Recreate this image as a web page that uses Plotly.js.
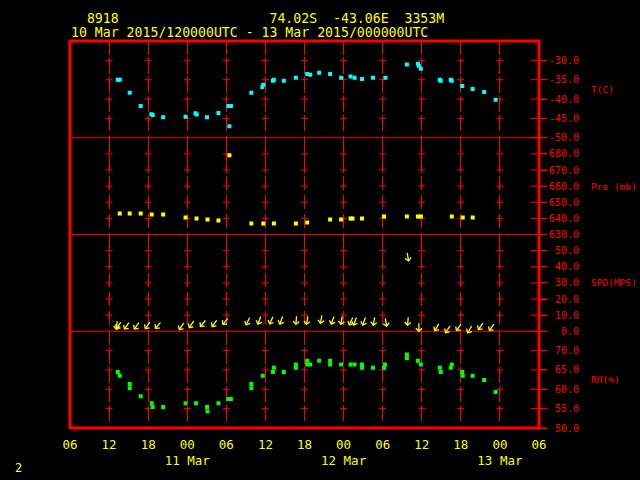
<!DOCTYPE html>
<html><head><meta charset="utf-8">
<script src="https://cdn.plot.ly/plotly-3.0.1.min.js"></script>
<style>html,body{margin:0;padding:0;background:#000;}#chart{width:640px;height:480px;}</style>
</head><body><div id="chart"></div>
<script>
// Times are hours since 10 Mar 2015 00 UTC
const tempHours = [13.33,13.64,15.17,16.85,18.49,18.69,20.30,23.74,25.27,25.45,27.03,28.79,30.32,30.70,30.47,33.84,35.53,35.68,37.15,37.30,38.83,40.67,42.41,42.87,44.25,45.93,47.62,49.07,49.69,50.83,52.52,54.43,57.72,59.41,59.56,59.86,62.77,62.92,64.45,64.61,66.22,67.82,69.58,71.34];
const tempC = [-35.0,-35.0,-38.4,-41.8,-43.9,-44.1,-44.7,-44.6,-43.7,-44.0,-44.7,-43.6,-41.8,-41.8,-47.0,-38.4,-36.9,-36.3,-35.3,-35.0,-35.3,-34.5,-33.5,-33.7,-33.2,-33.5,-34.5,-34.2,-34.5,-34.8,-34.5,-34.5,-31.1,-30.9,-31.4,-32.2,-35.0,-35.3,-35.0,-35.3,-36.6,-37.4,-38.2,-40.2];

const presHours = [13.64,15.17,16.85,18.54,20.30,23.74,25.42,27.11,28.79,30.47,33.84,35.68,37.30,40.67,42.41,45.93,47.62,49.07,49.38,50.83,54.20,57.72,59.41,59.86,64.61,66.29,67.82];
const presMb = [643.1,643.1,643.1,642.4,642.4,640.6,640.0,639.3,638.7,679.1,636.8,636.8,636.8,636.8,637.5,639.3,639.3,640.0,640.0,640.0,641.2,641.2,641.2,641.2,641.2,640.6,640.6];

const rhHours = [13.33,13.64,15.17,15.17,16.85,18.54,18.69,20.30,23.74,25.35,27.03,27.11,28.79,30.32,30.70,33.84,33.84,35.60,37.30,37.15,38.83,40.67,40.67,42.41,42.41,42.87,44.25,45.93,45.93,47.62,49.07,49.69,50.83,50.83,52.52,54.35,54.20,57.72,57.72,59.41,59.86,62.77,62.92,64.61,64.45,66.22,66.29,67.82,69.58,71.34];
const rhPct = [64.5,63.5,61.4,60.3,58.2,56.4,55.4,55.4,56.4,56.4,55.4,54.3,56.4,57.5,57.5,61.4,60.3,63.5,65.6,64.5,64.5,66.4,65.6,67.4,66.4,66.4,67.4,67.4,66.4,66.4,66.4,66.4,66.4,65.6,65.6,66.4,65.6,69.0,68.0,67.4,66.4,65.6,64.5,66.4,65.6,64.5,63.5,63.5,62.4,59.3];

const windHours = [13.18,13.48,14.71,16.24,17.92,19.53,23.13,24.66,26.42,28.18,29.86,33.31,35.07,36.90,38.43,40.73,42.41,44.56,46.32,47.70,49.15,49.76,51.14,52.67,54.51,57.87,57.87,59.56,62.32,64.00,65.69,67.37,69.05,70.74];
const windSpd = [3.7,3.7,3.4,3.4,3.7,3.7,3.1,4.3,4.9,4.9,6.2,6.2,6.8,6.8,6.8,6.8,6.8,7.4,6.8,6.8,6.2,6.2,6.2,6.2,5.6,6.2,46.1,2.5,2.5,1.2,2.5,1.2,3.1,2.5];
const windToDir = [185,215,215,215,215,220,215,215,220,215,220,205,200,205,200,185,190,190,200,190,205,200,200,190,170,185,170,180,210,215,215,210,215,215];

const xTickVals = [6,12,18,24,30,36,42,48,54,60,66,72,78];
const xTickText = ["06","12","18","00<br>11 Mar","06","12","18","00<br>12 Mar","06","12","18","00<br>13 Mar","06"];
const gridHours = [12,18,24,30,36,42,48,54,60,66,72];

const tTicks = [-50,-45,-40,-35,-30];
const pTicks = [630,640,650,660,670,680];
const sTicks = [0,10,20,30,40,50];
const rTicks = [50,55,60,65,70];

const RED = '#ff0000', YEL = '#ffff00';
const MONO = 'DejaVu Sans Mono';

function fmt(v){ let s = v.toFixed(1); while (s.length < 5) s = '\u00a0' + s; return s; }

const traces = [];
function crosses(ticks, yax){
  const inner = ticks.slice(1);
  const xs = [], ys = [];
  gridHours.forEach(h => inner.forEach(v => { xs.push(h); ys.push(v); }));
  traces.push({x: xs, y: ys, yaxis: yax, mode: 'markers', hoverinfo: 'skip',
    marker: {symbol: 'cross-thin-open', size: 5, color: RED, line: {color: RED, width: 1}}});
  traces.push({x: ticks.map(() => 78), y: ticks, yaxis: yax, mode: 'markers', cliponaxis: false, hoverinfo: 'skip',
    marker: {symbol: 'line-ew-open', size: 12, color: RED, line: {color: RED, width: 1}}});
}
crosses(tTicks, 'y'); crosses(pTicks, 'y2'); crosses(sTicks, 'y3'); crosses(rTicks, 'y4');

traces.push({x: tempHours, y: tempC, yaxis: 'y', mode: 'markers', marker: {symbol: 'square', size: 4, color: '#00ffff'}});
traces.push({x: presHours, y: presMb, yaxis: 'y2', mode: 'markers', marker: {symbol: 'square', size: 4, color: YEL}});
traces.push({x: rhHours, y: rhPct, yaxis: 'y4', mode: 'markers', marker: {symbol: 'square', size: 4, color: '#00ff00'}});

const L = 10;
const annotations = windHours.map((h, i) => {
  const th = windToDir[i] * Math.PI / 180;
  const sx = Math.sin(th), sy = Math.cos(th);
  return {x: h, y: windSpd[i], xref: 'x', yref: 'y3', text: ' ', font: {size: 1}, borderpad: 0,
    showarrow: true, arrowhead: 4, arrowsize: 0.9, arrowwidth: 1.3, arrowcolor: YEL, standoff: 0,
    ax: -L * sx, ay: L * sy, xshift: L / 2 * sx, yshift: L / 2 * sy};
});

function pannote(text, y){
  return {xref: 'paper', yref: 'paper', x: 1.1066, y: y, xanchor: 'left', yanchor: 'middle', showarrow: false,
    text: text, font: {family: MONO, size: 9.5, color: RED}};
}
annotations.push(pannote('T(C)', 0.875), pannote('Pre (mb)', 0.625), pannote('SPD(MPS)', 0.375), pannote('RH(%)', 0.125));
const NB = '\u00a0';
annotations.push({xref: 'paper', yref: 'paper', x: -0.002, y: 1.0594, xanchor: 'left', yanchor: 'middle', showarrow: false, height: 12,
  text: NB+NB+'8918'+NB.repeat(19)+'74.02S'+NB+NB+'-43.06E'+NB+NB+'3353M', font: {family: MONO, size: 13.2, color: YEL}});
annotations.push({xref: 'paper', yref: 'paper', x: -0.002, y: 1.0233, xanchor: 'left', yanchor: 'middle', showarrow: false, height: 12,
  text: '10 Mar 2015/120000UTC - 13 Mar 2015/000000UTC', font: {family: MONO, size: 13.2, color: YEL}});
annotations.push({xref: 'paper', yref: 'paper', x: -0.1096, y: -0.1034, xanchor: 'center', yanchor: 'middle', showarrow: false,
  text: '2', font: {family: MONO, size: 12, color: YEL}});

function yax(dom, rng, ticks){
  return {domain: dom, range: rng, side: 'right', anchor: 'x', showgrid: false, zeroline: false, showline: false,
    tickvals: ticks, ticktext: ticks.map(fmt), ticks: 'outside', ticklen: 7, tickcolor: RED, tickwidth: 1,
    tickfont: {family: MONO, size: 10, color: RED}, fixedrange: true};
}

const layout = {
  width: 640, height: 480, paper_bgcolor: '#000', plot_bgcolor: '#000', showlegend: false,
  margin: {l: 70, r: 101, t: 41, b: 52},
  font: {family: MONO},
  xaxis: {range: [6, 78], anchor: 'y4', tickvals: xTickVals, ticktext: xTickText, showgrid: true, gridcolor: RED, gridwidth: 1,
    griddash: '14px,5px', zeroline: false, showline: false, ticks: '', ticklabelstandoff: 7,
    tickfont: {family: MONO, size: 12.5, color: YEL}},
  yaxis: yax([0.75, 1], [-50, -25], tTicks),
  yaxis2: yax([0.5, 0.75], [630, 690], pTicks),
  yaxis3: yax([0.25, 0.5], [0, 60], sTicks),
  yaxis4: yax([0, 0.25], [50, 75], rTicks),
  shapes: [
    {type: 'rect', xref: 'paper', yref: 'paper', x0: 0, x1: 1, y0: 0, y1: 1, line: {color: RED, width: 3}, layer: 'above'},
    {type: 'line', xref: 'paper', yref: 'paper', x0: 0, x1: 1, y0: 0.25, y1: 0.25, line: {color: RED, width: 1}},
    {type: 'line', xref: 'paper', yref: 'paper', x0: 0, x1: 1, y0: 0.5, y1: 0.5, line: {color: RED, width: 1}},
    {type: 'line', xref: 'paper', yref: 'paper', x0: 0, x1: 1, y0: 0.75, y1: 0.75, line: {color: RED, width: 1}}
  ],
  annotations: annotations
};

Plotly.newPlot('chart', traces, layout, {displayModeBar: false, staticPlot: true});
</script></body></html>
